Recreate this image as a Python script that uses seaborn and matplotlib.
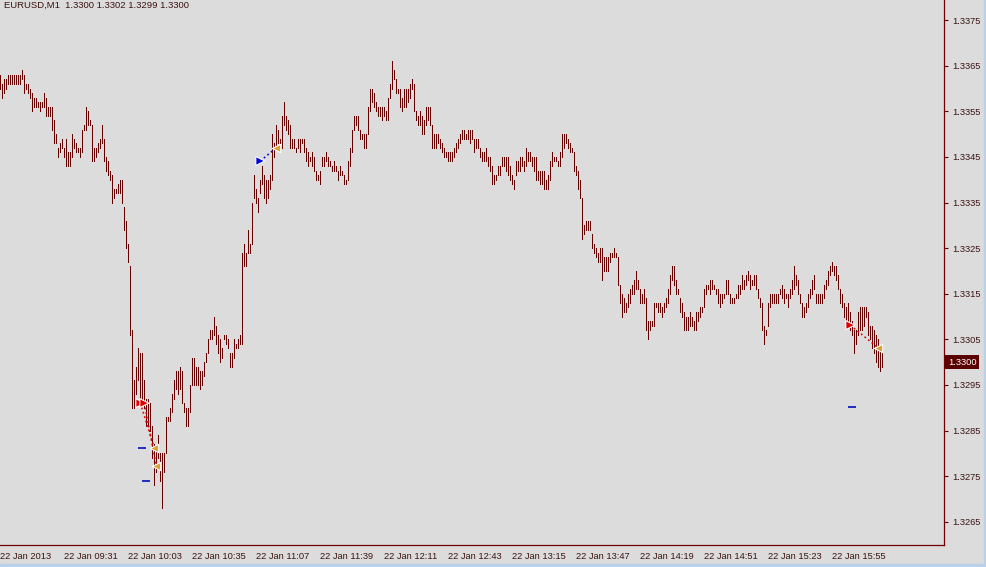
import matplotlib
matplotlib.use("Agg")
import matplotlib.pyplot as plt
import matplotlib.transforms as mtransforms
from matplotlib.patches import Rectangle
import numpy as np
import seaborn as sns

# --- chart data (EURUSD M1, 22 Jan 2013) ---
symbol_header = "EURUSD,M1  1.3300 1.3302 1.3299 1.3300"
base_price = 1.3260  # bar values below are pips above this level

high_pips = [
    103, 101, 102, 102, 103, 103, 103, 103, 103, 103, 103, 104, 103, 101, 101, 100,
    99, 98, 98, 97, 97, 97, 99, 98, 96, 96, 96, 93, 90, 87, 88, 89,
    87, 89, 86, 86, 90, 89, 88, 87, 87, 91, 92, 96, 95, 93, 92, 87,
    87, 88, 89, 92, 89, 85, 84, 82, 81, 78, 78, 79, 80, 80, 74, 71,
    66, 61, 47, 36, 39, 43, 42, 42, 36, 32, 32, 31, 26, 22, 21, 24,
    20, 20, 20, 28, 28, 30, 33, 36, 38, 38, 39, 38, 31, 30, 30, 35,
    41, 41, 39, 39, 38, 38, 40, 42, 45, 47, 47, 50, 48, 46, 45, 43,
    46, 46, 45, 42, 42, 45, 44, 45, 46, 64, 66, 64, 69, 66, 75, 81,
    78, 76, 80, 83, 81, 80, 80, 81, 90, 88, 92, 91, 89, 94, 97, 94,
    93, 92, 89, 89, 87, 89, 89, 89, 89, 87, 86, 85, 86, 85, 82, 81,
    82, 85, 85, 86, 85, 84, 83, 84, 83, 82, 83, 82, 81, 80, 84, 87,
    91, 94, 94, 94, 91, 90, 90, 90, 96, 100, 100, 99, 97, 96, 96, 96,
    96, 95, 98, 101, 106, 104, 102, 100, 100, 98, 100, 100, 100, 101, 102, 101,
    95, 94, 95, 94, 93, 96, 96, 96, 92, 90, 90, 90, 89, 88, 87, 86,
    86, 86, 86, 87, 88, 89, 90, 91, 91, 90, 91, 91, 91, 89, 89, 89,
    87, 86, 86, 87, 85, 85, 83, 81, 81, 83, 83, 85, 85, 85, 85, 83,
    81, 80, 84, 84, 85, 85, 84, 87, 86, 86, 85, 85, 85, 82, 82, 82,
    82, 80, 81, 84, 86, 85, 85, 84, 86, 90, 90, 90, 89, 88, 87, 86,
    83, 82, 80, 76, 70, 71, 71, 71, 68, 66, 65, 64, 65, 65, 63, 63,
    63, 64, 64, 65, 64, 63, 57, 55, 54, 53, 55, 56, 57, 58, 60, 58,
    56, 55, 56, 54, 49, 49, 49, 53, 53, 53, 53, 52, 53, 54, 56, 59,
    61, 61, 58, 56, 54, 53, 51, 50, 50, 51, 50, 49, 51, 51, 52, 52,
    56, 57, 57, 58, 58, 57, 56, 56, 55, 55, 55, 58, 58, 55, 54, 54,
    55, 57, 57, 59, 58, 59, 60, 59, 58, 59, 59, 56, 54, 53, 48, 47,
    53, 55, 55, 55, 55, 55, 56, 57, 56, 55, 55, 56, 58, 61, 59, 58,
    55, 53, 52, 53, 55, 56, 58, 59, 55, 55, 55, 55, 57, 58, 60, 61,
    62, 61, 61, 59, 56, 55, 53, 52, 53, 51, 49, 47, 47, 51, 52, 52,
    52, 52, 51, 48, 48, 47, 46, 45, 43, 42,
]

low_pips = [
    100, 98, 99, 100, 101, 101, 101, 101, 101, 101, 101, 102, 99, 100, 99, 98,
    95, 96, 96, 96, 95, 96, 96, 94, 94, 94, 91, 88, 88, 85, 86, 87,
    85, 83, 83, 83, 85, 87, 86, 86, 85, 86, 91, 91, 92, 92, 84, 84,
    85, 86, 87, 88, 84, 82, 81, 80, 75, 76, 77, 77, 77, 75, 69, 65,
    62, 46, 30, 30, 33, 36, 31, 32, 30, 26, 26, 25, 19, 13, 16, 19,
    14, 8, 16, 20, 27, 27, 29, 32, 34, 33, 34, 31, 29, 26, 26, 29,
    35, 35, 35, 35, 34, 35, 37, 40, 42, 45, 45, 46, 44, 42, 40, 41,
    45, 44, 43, 39, 39, 41, 43, 43, 44, 44, 61, 61, 64, 64, 66, 76,
    75, 73, 77, 79, 76, 75, 76, 78, 80, 85, 87, 88, 87, 87, 92, 91,
    90, 87, 87, 87, 86, 87, 86, 88, 86, 84, 83, 84, 83, 82, 80, 80,
    79, 83, 83, 84, 83, 83, 82, 82, 82, 80, 81, 81, 79, 79, 80, 83,
    86, 91, 92, 91, 89, 89, 87, 87, 90, 95, 97, 96, 95, 94, 94, 93,
    94, 93, 93, 98, 100, 102, 99, 99, 96, 95, 96, 96, 97, 98, 100, 95,
    93, 92, 92, 90, 90, 92, 93, 92, 87, 87, 87, 88, 87, 86, 85, 85,
    84, 84, 84, 85, 86, 87, 88, 89, 89, 89, 89, 88, 89, 86, 87, 87,
    85, 84, 84, 84, 83, 82, 79, 79, 80, 81, 81, 83, 83, 82, 81, 80,
    79, 78, 81, 82, 82, 83, 82, 83, 84, 84, 83, 82, 80, 80, 79, 79,
    78, 78, 78, 80, 83, 84, 84, 83, 83, 85, 87, 88, 87, 86, 86, 82,
    81, 78, 76, 67, 68, 69, 69, 69, 65, 64, 63, 62, 62, 58, 60, 60,
    60, 62, 63, 63, 63, 57, 53, 50, 51, 51, 52, 53, 55, 55, 56, 56,
    53, 53, 53, 47, 45, 47, 48, 48, 52, 51, 51, 50, 51, 52, 53, 55,
    58, 57, 55, 55, 51, 50, 47, 47, 47, 48, 48, 47, 47, 49, 50, 51,
    52, 55, 56, 55, 56, 56, 55, 53, 52, 53, 54, 55, 55, 53, 53, 53,
    54, 54, 55, 56, 56, 57, 58, 56, 57, 57, 56, 54, 52, 47, 44, 46,
    48, 52, 53, 53, 53, 53, 55, 54, 53, 54, 52, 54, 55, 56, 57, 55,
    53, 50, 50, 51, 52, 54, 55, 56, 53, 53, 53, 53, 54, 56, 57, 59,
    60, 59, 58, 56, 53, 52, 50, 49, 48, 47, 46, 42, 44, 46, 47, 47,
    48, 50, 46, 45, 43, 42, 40, 39, 38, 39,
]

time_ticks = [0, 32, 64, 96, 128, 160, 192, 224, 256, 288, 320, 352, 384, 416]
time_labels = [
    "22 Jan 2013", "22 Jan 09:31", "22 Jan 10:03", "22 Jan 10:35",
    "22 Jan 11:07", "22 Jan 11:39", "22 Jan 12:11", "22 Jan 12:43",
    "22 Jan 13:15", "22 Jan 13:47", "22 Jan 14:19", "22 Jan 14:51",
    "22 Jan 15:23", "22 Jan 15:55",
]
price_ticks = [1.3265, 1.3275, 1.3285, 1.3295, 1.3305, 1.3315,
               1.3325, 1.3335, 1.3345, 1.3355, 1.3365, 1.3375]
last_price = 1.3300

# trade history arrows
open_bars = [70, 72, 130, 425]
open_prices = [1.3291, 1.3291, 1.33441, 1.33081]
open_colors = ["#e00000", "#e00000", "#0000e0", "#e00000"]
close_bars = [77, 78, 138, 439]
close_prices = [1.32812, 1.32772, 1.33470, 1.33031]
level_bars = [71, 73, 426]
level_prices = [1.32812, 1.32739, 1.32902]

# --- style ---
bg = "#dcdcdc"
bar_color = "#640000"
axis_color = "#700000"
text_color = "#3c1414"

sns.set_theme(style="white", rc={"axes.facecolor": bg, "figure.facecolor": bg})
plt.rcParams["font.family"] = ["Liberation Sans", "DejaVu Sans"]

fig = plt.figure(figsize=(9.87, 5.67), dpi=100)
ax = fig.add_axes([0, 22 / 567, 944 / 987, 545 / 567])

bars = np.arange(len(high_pips))
highs = base_price + np.array(high_pips) / 10000
lows = base_price + np.array(low_pips) / 10000

# 1. OHLC bars (drawn as plain vertical ranges at this zoom level)
ax.vlines(bars, lows, highs, color=bar_color, linewidth=0.5, antialiased=False)

# 2. Trade lines and arrows
for xo, yo, xc, yc, c in zip(open_bars, open_prices, close_bars, close_prices, open_colors):
    ax.plot([xo, xc], [yo, yc], color=c, linestyle=(0, (1.2, 1.8)), linewidth=1.1)

sns.scatterplot(x=level_bars, y=level_prices, marker="_", s=40, color="#1020c0",
                linewidth=1.3, ax=ax, zorder=4)
sns.scatterplot(x=open_bars, y=open_prices, marker=">", s=42, hue=open_colors,
                palette={c: c for c in set(open_colors)}, edgecolor="white",
                linewidth=0.8, legend=False, ax=ax, zorder=5)
sns.scatterplot(x=close_bars, y=close_prices, marker="<", s=36, color="#e0a030",
                edgecolor="white", linewidth=0.8, ax=ax, zorder=5)

# 3. Axes, ticks, limits
ax.set_xlim(-0.15, 471.85)
ax.set_ylim(1.325989, 1.337941)
for side in ["left", "top"]:
    ax.spines[side].set_visible(False)
for side in ["right", "bottom"]:
    ax.spines[side].set_color(axis_color)
    ax.spines[side].set_linewidth(0.9)

ax.yaxis.tick_right()
ax.set_yticks(price_ticks)
ax.set_yticklabels([f"{p:.4f}" for p in price_ticks])
ax.set_xticks(time_ticks)
ax.set_xticklabels(time_labels)
for lbl in ax.get_xticklabels():
    lbl.set_ha("left")
ax.tick_params(axis="both", direction="out", length=3, width=0.8, color=axis_color,
               labelsize=6.7, labelcolor=text_color)
ax.tick_params(axis="y", pad=3)
ax.tick_params(axis="x", pad=2)
ax.set_xlabel("")
ax.set_ylabel("")
ax.grid(False)

# 4. Header and current price tag
ax.text(0.004, 0.9985, symbol_header, transform=ax.transAxes, ha="left", va="top",
        fontsize=6.8, color=text_color)
trans = mtransforms.blended_transform_factory(ax.transAxes, ax.transData)
ax.text(1.004, last_price, f"{last_price:.4f}", transform=trans, ha="left", va="center",
        fontsize=6.7, color="white",
        bbox=dict(boxstyle="square,pad=0.28", fc="#5a0000", ec="none"))

# window border strips
fig.patches.append(Rectangle((0, 0), 1, 3.5 / 567, transform=fig.transFigure,
                             color="#b9d1ea", zorder=0))
fig.patches.append(Rectangle((984 / 987, 0), 3 / 987, 1, transform=fig.transFigure,
                             color="#b9d1ea", zorder=0))

plt.savefig("out.png", dpi=100)
plt.close()
